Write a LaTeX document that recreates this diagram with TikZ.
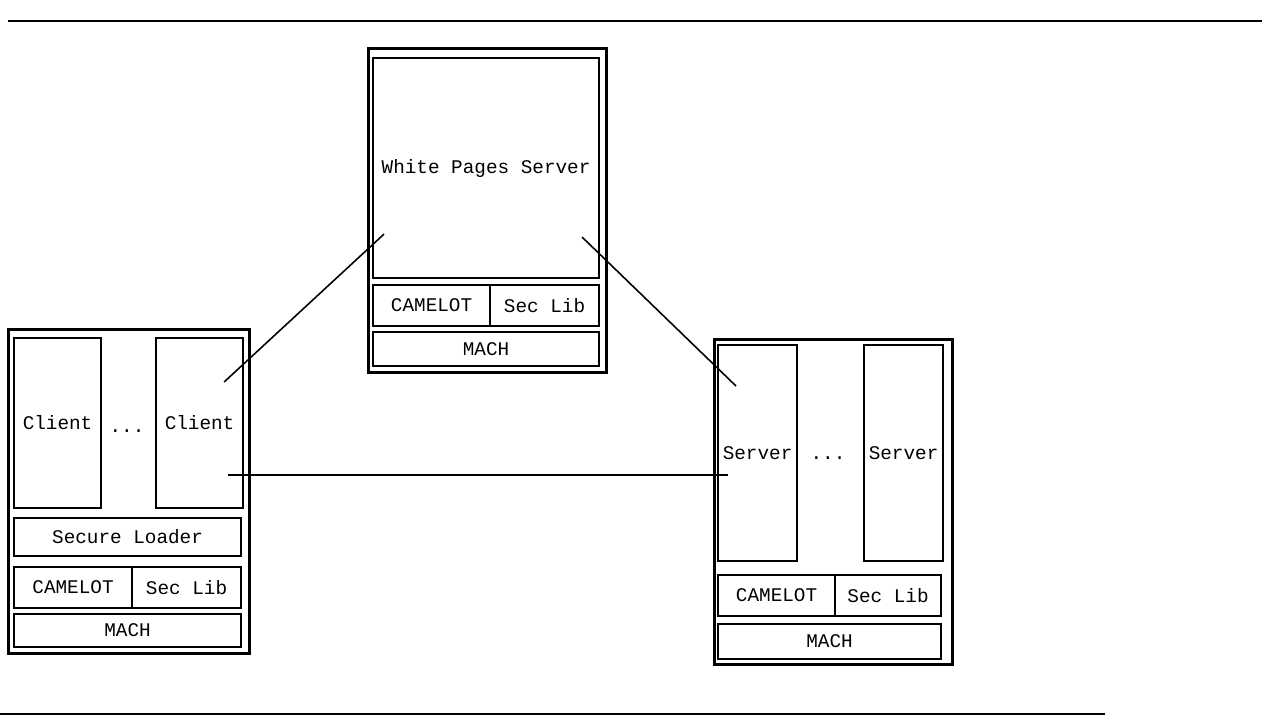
\documentclass[tikz,border=0pt]{standalone}
\usepackage{fontspec}
\setmonofont{Liberation Mono}
\usetikzlibrary{calc}

\begin{document}
\begin{tikzpicture}[
    host/.style={draw,line width=1.6pt,anchor=north west,inner sep=0pt},
    blk/.style={draw,line width=1.2pt,anchor=north west,inner sep=1pt,
      font=\ttfamily\fontsize{11}{13}\selectfont},
    link/.style={line width=0.9pt}]
  \useasboundingbox (0,0) rectangle (25.28,-14.46);
  % page rules
  \draw[line width=1.2pt] (0.16,-0.42) -- (25.24,-0.42);
  \draw[line width=1.2pt] (0,-14.28) -- (22.1,-14.28);

  % white pages host
  \node[host,minimum width=4.76cm,minimum height=6.48cm] (wphost) at (7.34,-0.94) {};
  \node[blk,minimum width=4.52cm,minimum height=4.40cm] (wps) at (7.44,-1.14) {White Pages Server};
  \node[blk,minimum width=2.34cm,minimum height=0.82cm] (wpcam) at (7.44,-5.68) {CAMELOT};
  \node[blk,minimum width=2.18cm,minimum height=0.82cm] (wpsec) at (9.78,-5.68) {Sec Lib};
  \node[blk,minimum width=4.52cm,minimum height=0.68cm] (wpmach) at (7.44,-6.62) {MACH};

  % client host
  \node[host,minimum width=4.82cm,minimum height=6.48cm] (clhost) at (0.14,-6.56) {};
  \node[blk,minimum width=1.74cm,minimum height=3.40cm] (cl1) at (0.26,-6.74) {Client};
  \node[blk,minimum width=1.74cm,minimum height=3.40cm] (cl2) at (3.10,-6.74) {Client};
  \node[font=\ttfamily\fontsize{11}{13}\selectfont] (cldots) at (2.54,-8.62) {...};
  \node[blk,minimum width=4.54cm,minimum height=0.76cm] (loader) at (0.26,-10.34) {Secure Loader};
  \node[blk,minimum width=2.36cm,minimum height=0.82cm] (clcam) at (0.26,-11.32) {CAMELOT};
  \node[blk,minimum width=2.18cm,minimum height=0.82cm] (clsec) at (2.62,-11.32) {Sec Lib};
  \node[blk,minimum width=4.54cm,minimum height=0.66cm] (clmach) at (0.26,-12.26) {MACH};

  % server host
  \node[host,minimum width=4.76cm,minimum height=6.50cm] (svhost) at (14.26,-6.76) {};
  \node[blk,minimum width=1.58cm,minimum height=4.32cm] (sv1) at (14.34,-6.88) {Server};
  \node[blk,minimum width=1.58cm,minimum height=4.32cm] (sv2) at (17.26,-6.88) {Server};
  \node[font=\ttfamily\fontsize{11}{13}\selectfont] (svdots) at (16.56,-9.16) {...};
  \node[blk,minimum width=2.34cm,minimum height=0.82cm] (svcam) at (14.34,-11.48) {CAMELOT};
  \node[blk,minimum width=2.12cm,minimum height=0.82cm] (svsec) at (16.68,-11.48) {Sec Lib};
  \node[blk,minimum width=4.46cm,minimum height=0.70cm] (svmach) at (14.34,-12.46) {MACH};

  % connections
  \coordinate (clup) at ($(cl2.north east)+(-0.40,-0.90)$);
  \coordinate (wpl) at ($(wps.south west)+(0.24,0.90)$);
  \coordinate (wpr) at ($(wps.south east)+(-0.36,0.84)$);
  \coordinate (svup) at ($(sv1.north west)+(0.38,-0.84)$);
  \coordinate (cllo) at ($(cl2.east)+(-0.32,-1.04)$);
  \coordinate (svlo) at ($(cllo -| sv1.west)+(0.22,0)$);
  \draw[link] (clup) -- (wpl);
  \draw[link] (wpr) -- (svup);
  \draw[link] (cllo) -- (svlo);
\end{tikzpicture}
\end{document}
